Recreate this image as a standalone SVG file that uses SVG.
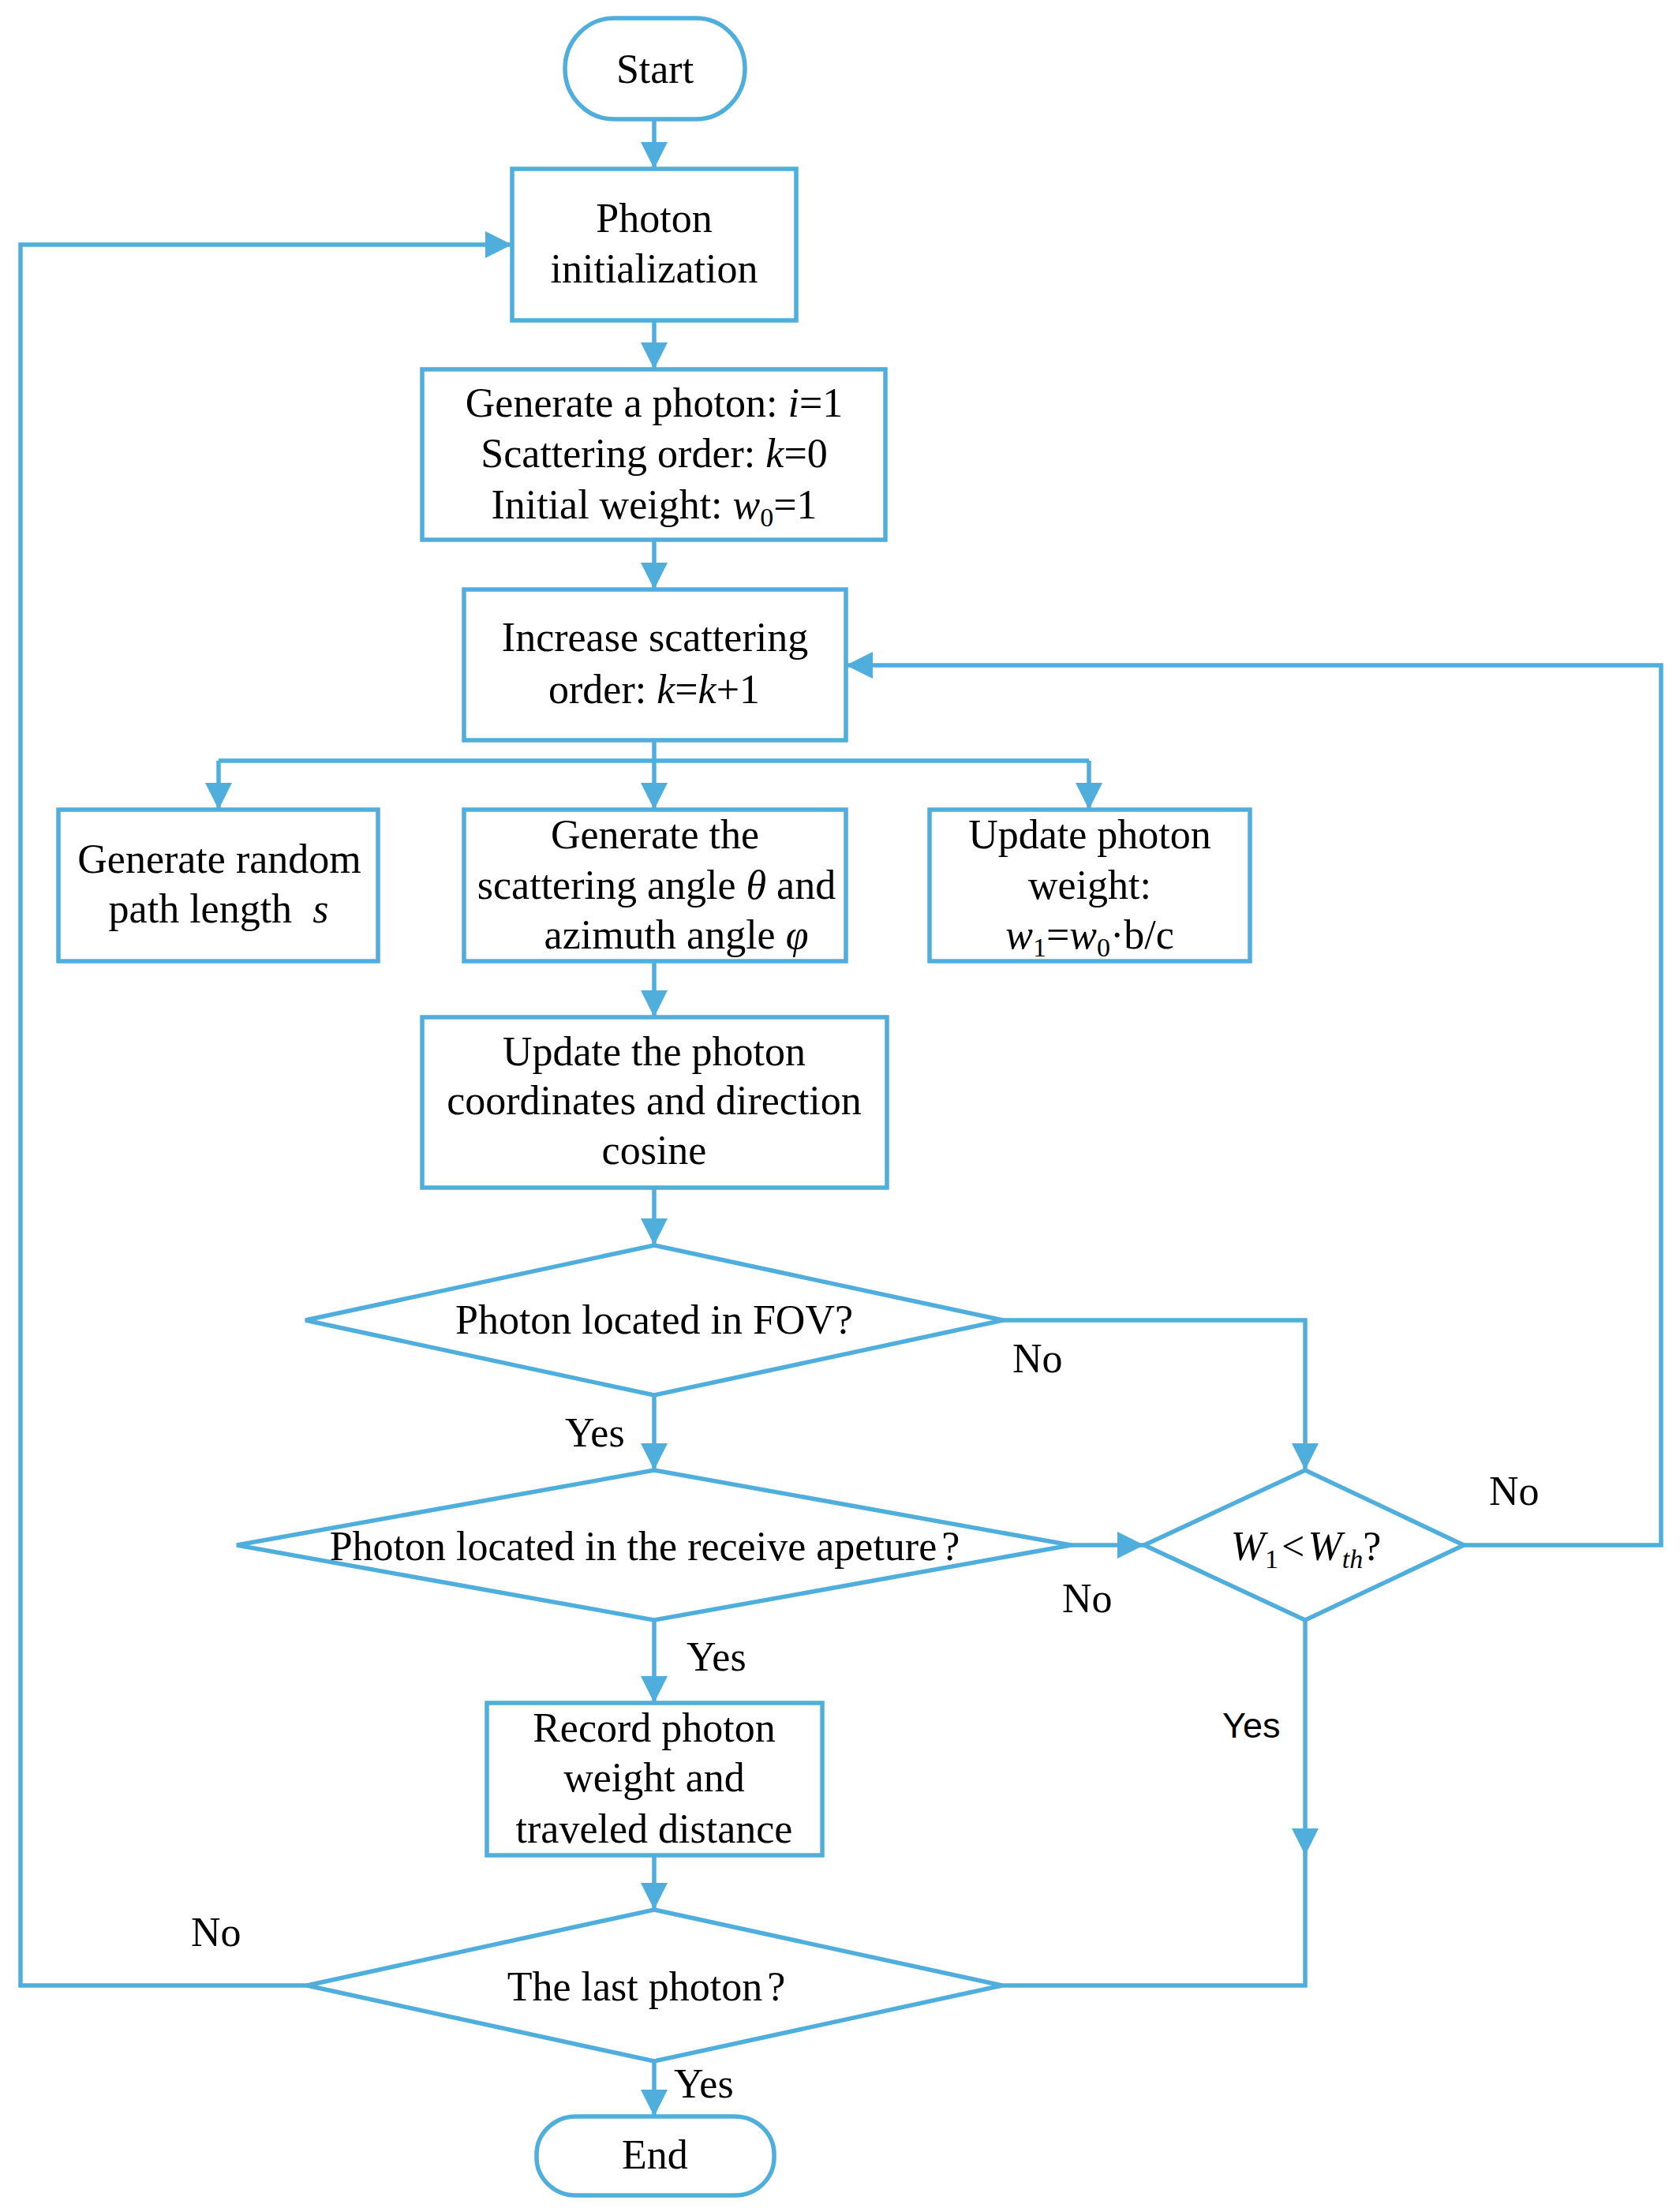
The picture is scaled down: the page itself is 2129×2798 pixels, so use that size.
<svg xmlns="http://www.w3.org/2000/svg" width="2129" height="2798" viewBox="0 0 2129 2798">
<style>
.n{fill:#fff;stroke:#4FAEDC;stroke-width:5.5}
.c{fill:none;stroke:#4FAEDC;stroke-width:5.5}
text{font-family:"Liberation Serif","Times New Roman",serif;font-size:52px;fill:#000}
.m{text-anchor:middle}
.i{font-style:italic}
.s{font-size:34px}
.sans{font-family:"Liberation Sans",Arial,sans-serif;font-size:45px}
</style>
<defs>
<marker id="a" markerUnits="userSpaceOnUse" markerWidth="34" markerHeight="34" refX="34" refY="17" orient="auto">
<path d="M0,0 L34,17 L0,34 Z" fill="#4FAEDC"/>
</marker>
</defs>
<rect width="2129" height="2798" fill="#fff"/>
<g id="connectors">
<path class="c" d="M829,151 V214" marker-end="url(#a)"/>
<path class="c" d="M829,406 V468" marker-end="url(#a)"/>
<path class="c" d="M829,684 V747" marker-end="url(#a)"/>
<path class="c" d="M829,938 V964 M277,964 H1380"/>
<path class="c" d="M277,964 V1026" marker-end="url(#a)"/>
<path class="c" d="M829,964 V1026" marker-end="url(#a)"/>
<path class="c" d="M1380,964 V1026" marker-end="url(#a)"/>
<path class="c" d="M829,1218 V1289" marker-end="url(#a)"/>
<path class="c" d="M829,1505 V1578" marker-end="url(#a)"/>
<path class="c" d="M829,1768 V1863" marker-end="url(#a)"/>
<path class="c" d="M1271,1673 H1654 V1863" marker-end="url(#a)"/>
<path class="c" d="M1357,1958 H1450" marker-end="url(#a)"/>
<path class="c" d="M1855,1958 H2105 V843 H1072" marker-end="url(#a)"/>
<path class="c" d="M829,2053 V2158" marker-end="url(#a)"/>
<path class="c" d="M829,2351 V2420" marker-end="url(#a)"/>
<path class="c" d="M1654,2053 V2351" marker-end="url(#a)"/>
<path class="c" d="M1654,2349 V2516 H1270"/>
<path class="c" d="M389,2516 H26 V310 H649" marker-end="url(#a)"/>
<path class="c" d="M829,2612 V2682" marker-end="url(#a)"/>
</g>
<g id="start">
<rect class="n" x="716" y="23" width="228" height="128" rx="62" ry="64"/>
<text class="m" x="830" y="105">Start</text>
</g>
<g id="init">
<rect class="n" x="649" y="214" width="360" height="192"/>
<text class="m" x="829" y="294">Photon</text>
<text class="m" x="829" y="358">initialization</text>
</g>
<g id="generate">
<rect class="n" x="535" y="468" width="587" height="216"/>
<text class="m" x="829" y="528">Generate a photon: <tspan class="i">i</tspan>=1</text>
<text class="m" x="829" y="592">Scattering order: <tspan class="i">k</tspan>=0</text>
<text class="m" x="829" y="657">Initial weight: <tspan class="i">w</tspan><tspan class="s" dy="10">0</tspan><tspan dy="-10">=1</tspan></text>
</g>
<g id="increase">
<rect class="n" x="588" y="747" width="484" height="191"/>
<text class="m" x="830" y="825">Increase scattering</text>
<text class="m" x="829" y="891">order: <tspan class="i">k</tspan>=<tspan class="i">k</tspan>+1</text>
</g>
<g id="pathlen">
<rect class="n" x="74" y="1026" width="405" height="192"/>
<text class="m" x="278" y="1106">Generate random</text>
<text class="m" x="277" y="1169">path length<tspan class="i" dx="26">s</tspan></text>
</g>
<g id="angle">
<rect class="n" x="588" y="1026" width="484" height="192"/>
<text class="m" x="830" y="1075">Generate the</text>
<text class="m" x="832" y="1139">scattering angle <tspan class="i">θ</tspan> and</text>
<text class="m" x="857" y="1202">azimuth angle <tspan class="i">φ</tspan></text>
</g>
<g id="weight">
<rect class="n" x="1178" y="1026" width="406" height="192"/>
<text class="m" x="1381" y="1075">Update photon</text>
<text class="m" x="1381" y="1139">weight:</text>
<text class="m" x="1381" y="1202"><tspan class="i">w</tspan><tspan class="s" dy="10">1</tspan><tspan dy="-10">=</tspan><tspan class="i">w</tspan><tspan class="s" dy="10">0</tspan><tspan dy="-10">·b/c</tspan></text>
</g>
<g id="coords">
<rect class="n" x="535" y="1289" width="589" height="216"/>
<text class="m" x="829" y="1350">Update the photon</text>
<text class="m" x="829" y="1412">coordinates and direction</text>
<text class="m" x="829" y="1475">cosine</text>
</g>
<g id="fov">
<polygon class="n" points="829,1578 1271,1673 829,1768 387,1673"/>
<text class="m" x="829" y="1690">Photon located in FOV?</text>
</g>
<g id="aperture">
<polygon class="n" points="829,1863 1357,1958 829,2053 300,1958"/>
<text class="m" x="817" y="1977">Photon located in the receive apeture<tspan dx="6">?</tspan></text>
</g>
<g id="threshold">
<polygon class="n" points="1654,1863 1855,1958 1654,2053 1450,1958"/>
<text class="m" x="1655" y="1977"><tspan class="i">W</tspan><tspan class="s" dy="10">1</tspan><tspan dy="-10" dx="4">&lt;</tspan><tspan class="i" dx="4">W</tspan><tspan class="i s" dy="10">th</tspan><tspan dy="-10">?</tspan></text>
</g>
<g id="record">
<rect class="n" x="617" y="2158" width="425" height="193"/>
<text class="m" x="829" y="2207">Record photon</text>
<text class="m" x="829" y="2270">weight and</text>
<text class="m" x="829" y="2335">traveled distance</text>
</g>
<g id="last">
<polygon class="n" points="829,2420 1270,2516 829,2612 389,2516"/>
<text class="m" x="819" y="2535">The last photon<tspan dx="6">?</tspan></text>
</g>
<g id="end">
<rect class="n" x="680" y="2682" width="301" height="100" rx="50" ry="48"/>
<text class="m" x="830" y="2748">End</text>
</g>
<g id="labels">
<text x="716" y="1833">Yes</text>
<text x="1283" y="1739">No</text>
<text x="1346" y="2043">No</text>
<text x="1887" y="1907">No</text>
<text x="870" y="2117">Yes</text>
<text class="sans" x="1549" y="2202">Yes</text>
<text x="242" y="2466">No</text>
<text x="854" y="2658">Yes</text>
</g>
</svg>
